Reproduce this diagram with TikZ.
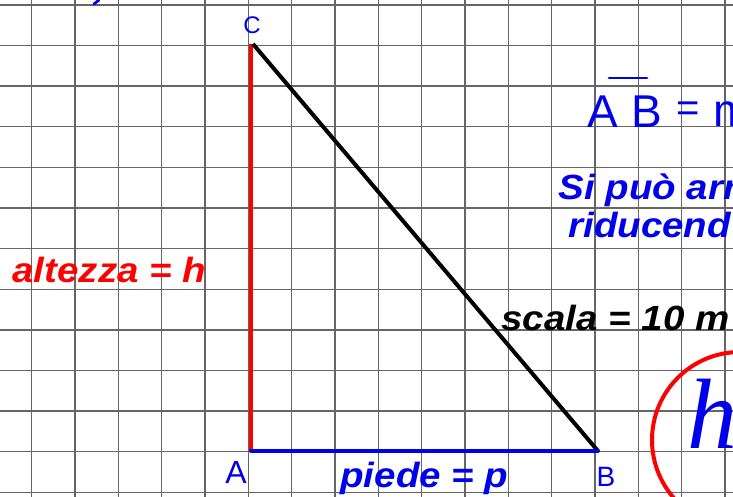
\documentclass[tikz,border=0pt]{standalone}
\usepackage{fontspec}
\setmainfont{Liberation Sans}
\newfontfamily\handfont{Liberation Sans}
\newfontfamily\loopfont{Liberation Serif}
\usetikzlibrary{positioning,calc}

\definecolor{penblue}{RGB}{0,0,235}
\definecolor{penred}{RGB}{255,0,0}
\tikzset{
  gridline/.style={black!60,line width=0.7pt},
  bigtext/.style={font=\fontsize{17.5}{17.5}\selectfont\bfseries\itshape,inner sep=0pt,anchor=base west,xscale=1.1,transform shape},
  handtext/.style={font=\handfont,text=penblue,inner sep=0pt}
}

\begin{document}
\begin{tikzpicture}[x=0.5pt,y=-0.5pt]
\useasboundingbox (0,0) rectangle (733,497);
\clip (0,0) rectangle (733,497);
\fill[white] (0,0) rectangle (733,497);
% squared paper
\draw[gridline,xshift=15.85pt,yshift=-2.5pt,xstep=21.665pt,ystep=20.3pt] (-40pt,-260pt) grid (370pt,10pt);
% triangle
\coordinate (A) at (251,451);
\coordinate (B) at (598,451);
\coordinate (C) at (253,44);
\draw[penred,line width=2pt] (A) -- (A|-C);
\draw[black,line width=2pt] (C) -- (B);
\draw[penblue,line width=2pt,line cap=round] (A) -- (B);
\node[handtext,font=\handfont\fontsize{12}{12}\selectfont] (lblC) at (252,25) {C};
\node[handtext,font=\handfont\fontsize{16}{16}\selectfont] (lblA) at (236,472) {A};
\node[handtext,font=\handfont\fontsize{14}{14}\selectfont] (lblB) at (606,477) {B};
% labels
\node[bigtext,text=penred] (alt) at (12,282) {altezza = h};
\node[bigtext,text=penblue] (pie) at (340,487) {piede = p};
\node[bigtext,text=black] (sca) at (501,330) {scala = 10 m};
\node[bigtext,text=penblue] (si1) at (558,200) {Si può arr};
\node[bigtext,text=penblue] (si2) at (568,238) {riducend};
% handwritten AB = m
\node[handtext,font=\handfont\fontsize{23}{23}\selectfont] (hA) at (603,112) {A};
\node[handtext,font=\handfont\fontsize{23}{23}\selectfont] (hB) at (647,112) {B};
\node[handtext,font=\handfont\fontsize{20}{20}\selectfont] (heq) at (688,112) {=};
\node[handtext,font=\handfont\fontsize{23}{23}\selectfont,anchor=west] (hm) at (713,114) {m};
\draw[penblue,line width=1.4pt,line cap=round] (609,78) -- (647,78);
% circled h
\draw[penred,line width=2pt] (740,440) circle (88);
\node[handtext,font=\loopfont\itshape\fontsize{50}{50}\selectfont] (hh) at (712,414) {h};
\draw[penblue,line width=1.4pt,line cap=round] (94,4) -- (99,0);
\end{tikzpicture}
\end{document}
